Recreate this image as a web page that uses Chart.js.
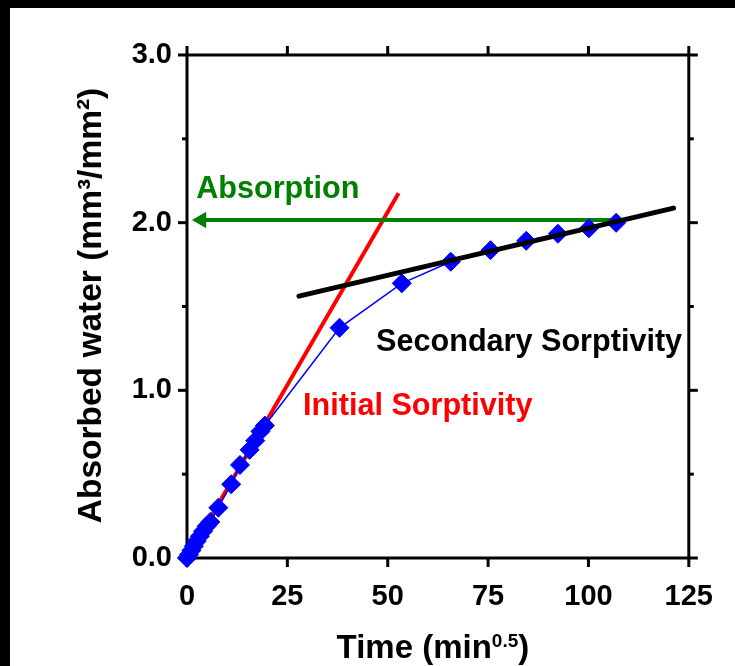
<!DOCTYPE html>
<html>
<head>
<meta charset="utf-8">
<script src="https://cdn.jsdelivr.net/npm/chart.js@4.4.1/dist/chart.umd.min.js"></script>
<style>
  html, body { margin: 0; padding: 0; background: #fff; }
  #wrap { width: 735px; height: 666px; }
</style>
</head>
<body>
<div id="wrap"><canvas id="c" width="735" height="666"></canvas></div>
<script>
// ---- data ----
const timeValues = [0, 0.5, 1.1, 1.7, 2.4, 3.2, 4.0, 4.9, 5.8, 7.8, 11.0, 13.2, 15.6, 17.0, 18.3, 19.4,
                    38.0, 53.5, 65.7, 75.6, 84.5, 92.4, 100.1, 106.9];
const waterValues = [0, 0.02, 0.045, 0.07, 0.10, 0.13, 0.16, 0.19, 0.215, 0.30, 0.44, 0.555, 0.645, 0.70, 0.755, 0.79,
                     1.373, 1.638, 1.767, 1.836, 1.892, 1.934, 1.966, 1.999];
const initialFitX = [0, 52.7];
const initialFitY = [0, 2.175];
const secondaryFitX = [27.9, 121.2];
const secondaryFitY = [1.562, 2.087];
const absorptionX = [3.6, 107.5];
const absorptionY = [2.016, 2.016];
const xTicks = [0, 25, 50, 75, 100, 125];
const yTicks = [0, 0.5, 1, 1.5, 2, 2.5, 3];
const annotations = [
  { text: 'Absorption', x: 2.3, y: 2.145, color: '#008000' },
  { text: 'Initial Sorptivity', x: 28.9, y: 0.85, color: '#ff0000' },
  { text: 'Secondary Sorptivity', x: 47.1, y: 1.235, color: '#000000' }
];
const xTitleMain = 'Time (min';
const xTitleSup = '0.5';
const xTitleEnd = ')';
const yTitle = 'Absorbed water (mm³/mm²)';

const FF = '"Liberation Sans", Arial, sans-serif';
const pts = (xs, ys) => xs.map((v, i) => ({ x: v, y: ys[i] }));

const decor = {
  id: 'decor',
  beforeDraw(chart) {
    const ctx = chart.ctx;
    ctx.save();
    ctx.fillStyle = '#fff';
    ctx.fillRect(0, 0, chart.width, chart.height);
    ctx.fillStyle = '#000';
    ctx.fillRect(0, 0, chart.width, 8);
    ctx.fillRect(0, 0, 10, chart.height);
    ctx.restore();
  },
  beforeDatasetsDraw(chart) {
    const ctx = chart.ctx, a = chart.chartArea;
    const xs = chart.scales.x, ys = chart.scales.y;
    ctx.save();
    ctx.strokeStyle = '#000';
    ctx.lineWidth = 3;
    ctx.lineJoin = 'miter';
    ctx.strokeRect(a.left, a.top, a.right - a.left, a.bottom - a.top);
    const seg = (x1, y1, x2, y2) => { ctx.beginPath(); ctx.moveTo(x1, y1); ctx.lineTo(x2, y2); ctx.stroke(); };
    xTicks.forEach(v => {
      const p = xs.getPixelForValue(v);
      seg(p, a.bottom, p, a.bottom + 9);
      seg(p, a.top, p, a.top - 9);
    });
    yTicks.forEach(v => {
      const p = ys.getPixelForValue(v);
      const L = Number.isInteger(v) ? 9 : 5;
      seg(a.left - L, p, a.left, p);
      seg(a.right, p, a.right + L, p);
    });
    ctx.restore();
  },
  afterDatasetsDraw(chart) {
    const ctx = chart.ctx, a = chart.chartArea;
    const xs = chart.scales.x, ys = chart.scales.y;
    ctx.save();
    ctx.textAlign = 'left';
    ctx.textBaseline = 'alphabetic';
    ctx.font = `bold 30.6px ${FF}`;
    annotations.forEach(t => {
      ctx.fillStyle = t.color;
      ctx.fillText(t.text, xs.getPixelForValue(t.x), ys.getPixelForValue(t.y));
    });
    // x title with superscript
    ctx.fillStyle = '#000';
    ctx.font = `bold 33px ${FF}`;
    const w1 = ctx.measureText(xTitleMain).width;
    const w3 = ctx.measureText(xTitleEnd).width;
    ctx.font = `bold 19px ${FF}`;
    const w2 = ctx.measureText(xTitleSup).width;
    const cx = (a.left + a.right) / 2 - 5;
    const base = 658;
    let x0 = cx - (w1 + w2 + w3) / 2;
    ctx.font = `bold 33px ${FF}`;
    ctx.fillText(xTitleMain, x0, base);
    ctx.font = `bold 19px ${FF}`;
    ctx.fillText(xTitleSup, x0 + w1, base - 11);
    ctx.font = `bold 33px ${FF}`;
    ctx.fillText(xTitleEnd, x0 + w1 + w2, base);
    // y title
    ctx.font = `bold 33.5px ${FF}`;
    ctx.translate(92, (a.top + a.bottom) / 2 - 1);
    ctx.rotate(-Math.PI / 2);
    ctx.textAlign = 'center';
    ctx.textBaseline = 'middle';
    ctx.fillText(yTitle, 0, 0);
    ctx.restore();
  }
};

new Chart(document.getElementById('c'), {
  type: 'scatter',
  data: {
    datasets: [
      {
        label: 'Initial Sorptivity',
        data: pts(initialFitX, initialFitY),
        showLine: true, borderColor: '#ff0000', borderWidth: 4,
        pointRadius: 0, order: 5, clip: false
      },
      {
        label: 'Absorption',
        data: pts(absorptionX, absorptionY),
        showLine: true, borderColor: '#008000', borderWidth: 4,
        pointStyle: 'triangle', pointRotation: -90, pointRadius: [9.5, 0],
        pointBackgroundColor: '#008000', pointBorderColor: '#008000', pointBorderWidth: 0,
        order: 4, clip: false
      },
      {
        label: 'Absorbed water',
        data: pts(timeValues, waterValues),
        showLine: true, borderColor: '#0000ff', borderWidth: 1.5,
        pointStyle: 'rectRot', pointRadius: 9.5,
        pointBackgroundColor: '#0000ff', pointBorderColor: '#0000ff', pointBorderWidth: 1,
        order: 3, clip: false
      },
      {
        label: 'Secondary Sorptivity',
        data: pts(secondaryFitX, secondaryFitY),
        showLine: true, borderColor: '#000000', borderWidth: 5, borderCapStyle: 'round',
        pointRadius: 0, order: 1, clip: false
      }
    ]
  },
  options: {
    responsive: false,
    animation: false,
    devicePixelRatio: 1,
    layout: { padding: { top: 55, right: 45, left: 0, bottom: 0 } },
    plugins: { legend: { display: false }, tooltip: { enabled: false } },
    elements: { line: { tension: 0 } },
    scales: {
      x: {
        type: 'linear', position: 'bottom', min: 0, max: 125,
        afterFit: s => { s.height = 108; },
        grid: { display: false, drawTicks: false },
        border: { display: false },
        afterBuildTicks: s => { s.ticks = xTicks.map(v => ({ value: v })); },
        ticks: {
          autoSkip: false, maxRotation: 0, padding: 22, color: '#000',
          font: { family: FF, size: 29, weight: 'bold' },
          callback: v => String(v)
        }
      },
      y: {
        type: 'linear', position: 'left', min: 0, max: 3,
        afterFit: s => { s.width = 187; },
        grid: { display: false, drawTicks: false },
        border: { display: false },
        afterBuildTicks: s => { s.ticks = yTicks.map(v => ({ value: v })); },
        ticks: {
          autoSkip: false, padding: 15, color: '#000',
          font: { family: FF, size: 29, weight: 'bold' },
          callback: v => (Number.isInteger(v) ? v.toFixed(1) : '')
        }
      }
    }
  },
  plugins: [decor]
});
</script>
</body>
</html>
